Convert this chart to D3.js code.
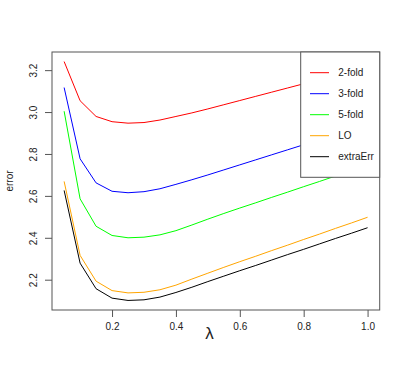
<!DOCTYPE html>
<html><head><meta charset="utf-8">
<script src="https://cdn.jsdelivr.net/npm/d3@7"></script>
<style>body{margin:0;background:#fff}svg{display:block}text{font-family:"Liberation Sans",Arial,sans-serif}</style>
</head><body><svg id="c" width="406" height="374"></svg>
<script>
const lambda = [0.05,0.10,0.15,0.20,0.25,0.30,0.35,0.40,0.45,0.50,0.55,0.60,0.65,0.70,0.75,0.80,0.85,0.90,0.95,1.00];
const twoFold   = [3.241,3.054,2.979,2.954,2.947,2.950,2.962,2.979,2.996,3.015,3.035,3.055,3.075,3.095,3.115,3.135,3.155,3.175,3.195,3.215];
const threeFold = [3.117,2.777,2.662,2.622,2.615,2.620,2.634,2.655,2.677,2.700,2.724,2.748,2.772,2.796,2.820,2.844,2.868,2.892,2.916,2.940];
const fiveFold  = [3.004,2.586,2.455,2.411,2.400,2.403,2.414,2.434,2.461,2.489,2.516,2.542,2.567,2.593,2.618,2.644,2.669,2.695,2.720,2.746];
const LO        = [2.669,2.316,2.193,2.148,2.137,2.140,2.152,2.174,2.203,2.231,2.259,2.286,2.312,2.339,2.365,2.392,2.418,2.445,2.471,2.498];
const extraErr  = [2.626,2.279,2.157,2.112,2.101,2.104,2.117,2.139,2.164,2.191,2.217,2.243,2.268,2.294,2.320,2.345,2.371,2.397,2.422,2.448];
const seriesNames = ["2-fold","3-fold","5-fold","LO","extraErr"];
const seriesColors = ["#ff0000","#0000ff","#00ff00","#ffa500","#000000"];
const seriesValues = [twoFold,threeFold,fiveFold,LO,extraErr];
const xTicks = [0.2,0.4,0.6,0.8,1.0];
const yTicks = [2.2,2.4,2.6,2.8,3.0,3.2];

const svg = d3.select("#c");
const L=52, R=379.7, T=52, B=310;
const allY = seriesValues.flat();
const xmin=d3.min(lambda), xmax=d3.max(lambda), ymin=d3.min(allY), ymax=d3.max(allY);
const xpad=(xmax-xmin)*0.04, ypad=(ymax-ymin)*0.04;
const x=d3.scaleLinear().domain([xmin-xpad,xmax+xpad]).range([L,R]);
const y=d3.scaleLinear().domain([ymin-ypad,ymax+ypad]).range([B,T]);

const line=d3.line().x((d,i)=>x(lambda[i])).y(d=>y(d));
seriesValues.forEach((vals,k)=>{
  svg.append("path").attr("d",line(vals)).attr("fill","none")
    .attr("stroke",seriesColors[k]).attr("stroke-width",1);
});

// axes
const xAxis=svg.append("g").attr("transform",`translate(0,${B})`)
  .call(d3.axisBottom(x).tickValues(xTicks).tickFormat(d3.format(".1f")).tickSize(7).tickPadding(6));
const yAxis=svg.append("g").attr("transform",`translate(${L},0)`)
  .call(d3.axisLeft(y).tickValues(yTicks).tickFormat(d3.format(".1f")).tickSize(7).tickPadding(6));
[xAxis,yAxis].forEach(g=>{
  g.select(".domain").remove();
  g.selectAll("line").attr("stroke","#555");
  g.selectAll("text").attr("font-size",10).attr("fill","#222").attr("font-family","Liberation Sans, Arial, sans-serif");
});
yAxis.selectAll(".tick text").attr("text-anchor","middle").attr("dy",null)
  .attr("x",null)
  .attr("transform","translate(-19,0) rotate(-90)").attr("dy","0.35em");
xAxis.selectAll(".tick text").attr("dy","0.71em");

// box
svg.append("rect").attr("x",L).attr("y",T).attr("width",R-L).attr("height",B-T)
  .attr("fill","none").attr("stroke","#555").attr("stroke-width",1);

// labels
svg.append("text").attr("x",209.5).attr("y",339).attr("text-anchor","middle")
  .attr("font-size",17).attr("fill","#222").text("λ");
svg.append("text").attr("transform","translate(13,181) rotate(-90)").attr("text-anchor","middle")
  .attr("font-size",10).attr("fill","#222").text("error");

// legend
const lg=svg.append("g");
lg.append("rect").attr("x",300.7).attr("y",T).attr("width",R-300.7).attr("height",177.3-T)
  .attr("fill","#fff").attr("stroke","#555").attr("stroke-width",1);
seriesNames.forEach((nm,k)=>{
  const yy=72.7+k*21;
  lg.append("line").attr("x1",310).attr("x2",329).attr("y1",yy).attr("y2",yy)
    .attr("stroke",seriesColors[k]).attr("stroke-width",1);
  lg.append("text").attr("x",338.3).attr("y",yy).attr("dy","0.35em")
    .attr("font-size",10).attr("fill","#222").text(nm);
});
</script></body></html>
